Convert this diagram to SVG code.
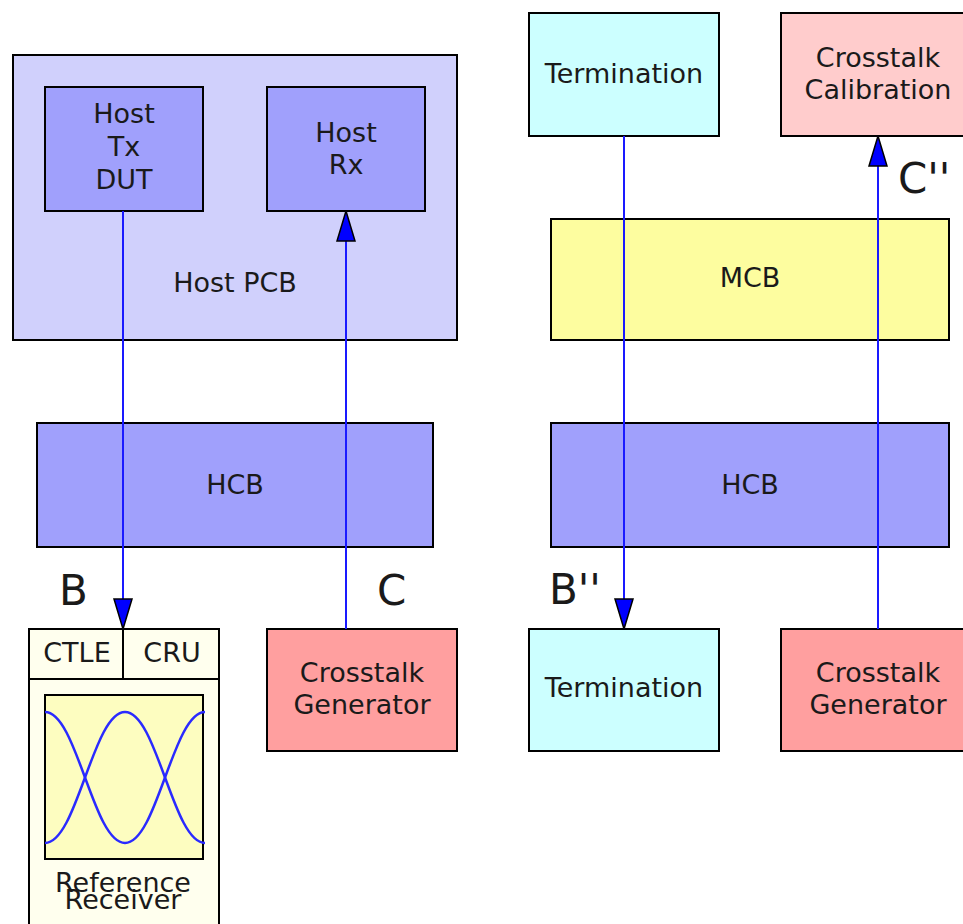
<svg xmlns="http://www.w3.org/2000/svg" width="963" height="924" viewBox="0 0 963 924">
<style>
.n{stroke:#000;stroke-width:2}
text{font-family:"DejaVu Sans",sans-serif;font-size:27px;fill:#1a1a1a;text-anchor:middle}
.big{font-size:42px;text-anchor:start}
.c{stroke:#1a1aff;stroke-width:2;fill:none}
.eye{stroke:#2a2aff;stroke-width:2.5;fill:none}
</style>
<defs>
<marker id="ah" viewBox="0 0 32 20" refX="31" refY="10" markerWidth="32" markerHeight="20" markerUnits="userSpaceOnUse" orient="auto">
<path d="M1,1 L31,10 L1,19 Z" fill="#0000ff" stroke="#000" stroke-width="1.5"/>
</marker>
</defs>
<rect width="963" height="924" fill="#fff"/>
<g id="hostpcb"><rect class="n" x="13" y="55" width="444" height="285" fill="#d0d0fc"/><text x="235" y="292">Host PCB</text></g>
<g id="hosttx"><rect class="n" x="45" y="87" width="158" height="124" fill="#a0a0fc"/><text x="124" y="123">Host</text><text x="124" y="156">Tx</text><text x="124" y="189">DUT</text></g>
<g id="hostrx"><rect class="n" x="267" y="87" width="158" height="124" fill="#a0a0fc"/><text x="346" y="142">Host</text><text x="346" y="174">Rx</text></g>
<g id="hcb1"><rect class="n" x="37" y="423" width="396" height="124" fill="#a0a0fc"/><text x="235" y="494">HCB</text></g>
<g id="hcb2"><rect class="n" x="551" y="423" width="398" height="124" fill="#a0a0fc"/><text x="750" y="494">HCB</text></g>
<g id="mcb"><rect class="n" x="551" y="219" width="398" height="121" fill="#fdfd9f"/><text x="750" y="287">MCB</text></g>
<g id="term1"><rect class="n" x="529" y="13" width="190" height="123" fill="#ccffff"/><text x="624" y="83">Termination</text></g>
<g id="xcal"><rect class="n" x="781" y="13" width="190" height="123" fill="#ffcccc"/><text x="878" y="67">Crosstalk</text><text x="878" y="99">Calibration</text></g>
<g id="term2"><rect class="n" x="529" y="629" width="190" height="122" fill="#ccffff"/><text x="624" y="697">Termination</text></g>
<g id="xgen2"><rect class="n" x="781" y="629" width="190" height="122" fill="#ff9f9f"/><text x="878" y="682">Crosstalk</text><text x="878" y="714">Generator</text></g>
<g id="xgen1"><rect class="n" x="267" y="629" width="190" height="122" fill="#ff9f9f"/><text x="362" y="682">Crosstalk</text><text x="362" y="714">Generator</text></g>
<g id="refrx">
<rect class="n" x="29" y="629" width="190" height="310" fill="#ffffee"/>
<rect class="n" x="29" y="629" width="94" height="50" fill="#ffffee"/>
<rect class="n" x="123" y="629" width="96" height="50" fill="#ffffee"/>
<text x="77" y="662">CTLE</text><text x="172" y="662">CRU</text>
<rect class="n" x="45" y="695" width="158" height="164" fill="#fdfdc0"/>
<path class="eye" d="M45,712 C77,712 93,843 125,843 C157,843 173,712 205,712"/>
<path class="eye" d="M45,843 C77,843 93,712 125,712 C157,712 173,843 205,843"/>
<text x="123" y="892">Reference</text><text x="123" y="909">Receiver</text>
</g>
<g id="connectors">
<line class="c" x1="123" y1="211" x2="123" y2="629" marker-end="url(#ah)"/>
<line class="c" x1="346" y1="629" x2="346" y2="211" marker-end="url(#ah)"/>
<line class="c" x1="624" y1="136" x2="624" y2="629" marker-end="url(#ah)"/>
<line class="c" x1="878" y1="629" x2="878" y2="136" marker-end="url(#ah)"/>
</g>
<g id="labels">
<text class="big" x="59" y="605">B</text>
<text class="big" x="377" y="605">C</text>
<text class="big" x="549" y="604">B''</text>
<text class="big" x="898" y="193">C''</text>
</g>
</svg>
